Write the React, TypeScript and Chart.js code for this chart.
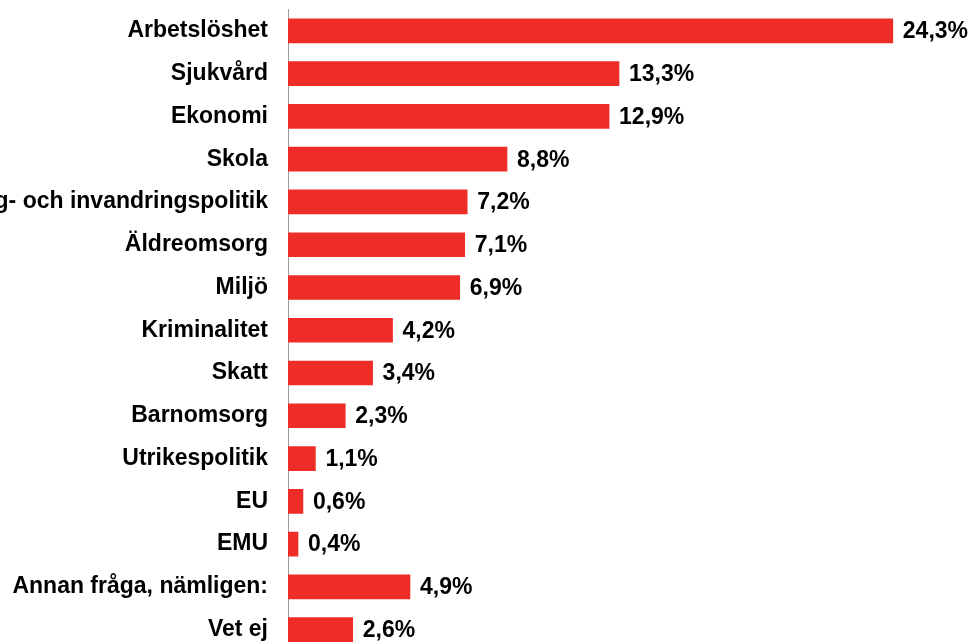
import React, { useEffect, useRef } from "react";
import { Chart, registerables } from "chart.js";

Chart.register(...registerables);

const categories = [
  "Arbetslöshet",
  "Sjukvård",
  "Ekonomi",
  "Skola",
  "Flykting- och invandringspolitik",
  "Äldreomsorg",
  "Miljö",
  "Kriminalitet",
  "Skatt",
  "Barnomsorg",
  "Utrikespolitik",
  "EU",
  "EMU",
  "Annan fråga, nämligen:",
  "Vet ej",
];

const values = [24.3, 13.3, 12.9, 8.8, 7.2, 7.1, 6.9, 4.2, 3.4, 2.3, 1.1, 0.6, 0.4, 4.9, 2.6];

const BAR_COLOR = "#EE2D28";
const FONT_FAMILY = "'Liberation Sans', Arial, sans-serif";
const FONT_SIZE = 23;

const valueLabelPlugin = {
  id: "valueLabels",
  afterDatasetsDraw(chart: any) {
    const { ctx } = chart;
    const meta = chart.getDatasetMeta(0);
    ctx.save();
    ctx.font = `bold ${FONT_SIZE}px ${FONT_FAMILY}`;
    ctx.fillStyle = "#000";
    ctx.textAlign = "left";
    ctx.textBaseline = "middle";
    meta.data.forEach((bar: any, i: number) => {
      const label = values[i].toFixed(1).replace(".", ",") + "%";
      ctx.fillText(label, bar.x + 10, bar.y + 1);
    });
    ctx.restore();
  },
};

export default function App() {
  const canvasRef = useRef<HTMLCanvasElement | null>(null);

  useEffect(() => {
    if (!canvasRef.current) return;
    const chart = new Chart(canvasRef.current, {
      type: "bar",
      data: {
        labels: categories,
        datasets: [
          {
            data: values,
            backgroundColor: BAR_COLOR,
            borderWidth: 0,
            barThickness: 24,
          },
        ],
      },
      options: {
        indexAxis: "y",
        animation: false,
        responsive: true,
        maintainAspectRatio: false,
        layout: { padding: { top: 9.5, right: 11, bottom: 0, left: 0 } },
        plugins: {
          legend: { display: false },
          tooltip: { enabled: false },
        },
        scales: {
          x: {
            display: false,
            min: 0,
            max: 27,
          },
          y: {
            grid: { display: false, drawTicks: false },
            border: { display: true, color: "#9a9a9a", width: 1 },
            ticks: {
              color: "#000",
              padding: 20,
              autoSkip: false,
              font: { family: FONT_FAMILY, size: FONT_SIZE, weight: "bold" },
            },
            afterFit(scale: any) {
              scale.width = 288;
              scale.paddingTop = 0;
              scale.paddingBottom = 0;
            },
          },
        },
      },
      plugins: [valueLabelPlugin],
    });
    return () => chart.destroy();
  }, []);

  return (
    <div style={{ position: "fixed", left: 0, top: 0, width: 971, height: 642, overflow: "hidden", background: "#fff" }}>
      <div style={{ position: "relative", width: 971, height: 651 }}>
        <canvas ref={canvasRef} />
      </div>
    </div>
  );
}
